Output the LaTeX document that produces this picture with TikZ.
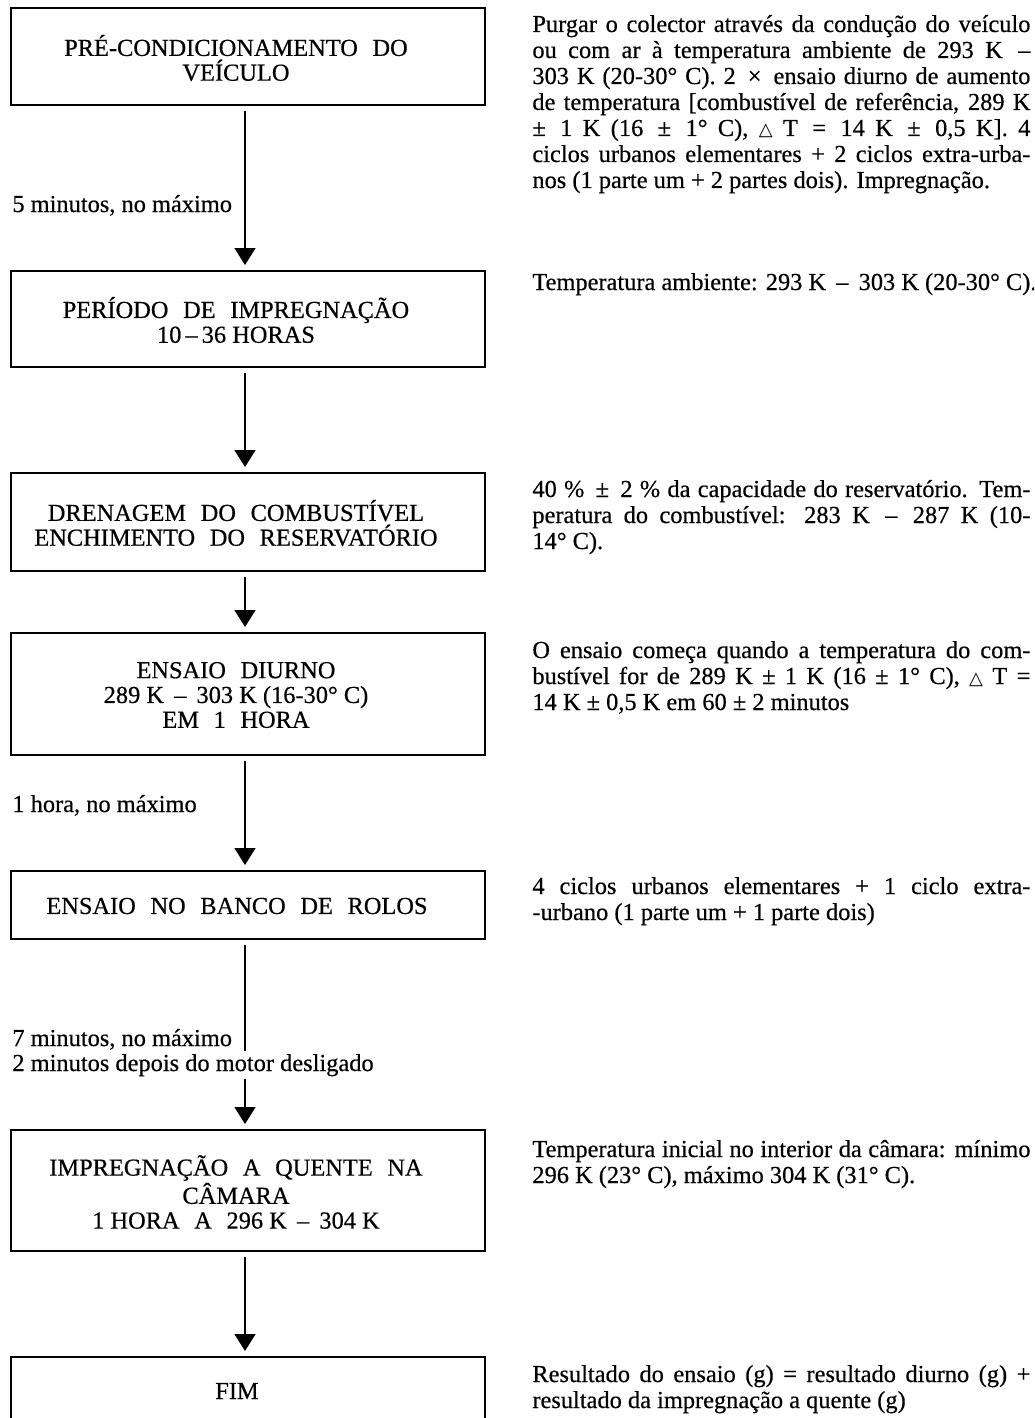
\documentclass[tikz,border=0pt]{standalone}
\usepackage{fontspec}
\setmainfont[FakeBold=0.5]{Liberation Serif}
\newfontfamily\dvsans{DejaVu Sans}
\usetikzlibrary{arrows.meta}
\newcommand\wsp{\hspace{0.6em}}
\newcommand\jline[1]{\makebox[249pt][s]{#1}\\}
\newcommand\dtri{{\dvsans\fontsize{9}{9}\selectfont △}}
\begin{document}
\begin{tikzpicture}[x=0.5pt,y=-0.5pt,
  box/.style={draw, line width=1pt, minimum width=237pt, inner sep=0pt},
  boxtext/.style={inner sep=0pt, align=center, font=\fontsize{12.2}{12.4}\selectfont},
  flow/.style={line width=0.8pt, -{Triangle[width=10.5pt,length=8.5pt]},
    shorten <=2.5pt, shorten >=2.5pt},
  note/.style={anchor=base west, inner sep=0pt, font=\fontsize{12.2}{13}\selectfont},
  lbl/.style={anchor=base west, inner sep=0pt, font=\fontsize{12.2}{13}\selectfont}]
\useasboundingbox (0,0) rectangle (1034,1418);
\clip (0,0) rectangle (1034,1418);

% boxes
\node[box, minimum height=48.5pt] (b1) at (248,56.5) {};
\node[box, minimum height=48pt] (b2) at (248,319) {};
\node[box, minimum height=49pt] (b3) at (248,522) {};
\node[box, minimum height=61pt] (b4) at (248,694) {};
\node[box, minimum height=34pt] (b5) at (248,905) {};
\node[box, minimum height=60.5pt] (b6) at (248,1190.5) {};
\node[box, minimum height=34pt] (b7) at (248,1391) {};

% box texts
\node[boxtext] (t1) at (236,58) {PRÉ-CONDICIONAMENTO\wsp DO\\VEÍCULO};
\node[boxtext] (t2) at (236,320) {PERÍODO\wsp DE\wsp IMPREGNAÇÃO\\10\,–\,36 HORAS};
\node[boxtext] (t3) at (236,523) {DRENAGEM\wsp DO\wsp COMBUSTÍVEL\\ENCHIMENTO\wsp DO\wsp RESERVATÓRIO};
\node[boxtext] (t4) at (236,695) {ENSAIO\wsp DIURNO\\289 K \,–\, 303 K (16-30° C)\\EM\wsp 1\wsp HORA};
\node[boxtext] (t5) at (237,906) {ENSAIO\wsp NO\wsp BANCO\wsp DE\wsp ROLOS};
\node[boxtext] (t6) at (236,1192) {IMPREGNAÇÃO\wsp A\wsp QUENTE\wsp NA\\CÂMARA\\1 HORA\wsp A\wsp 296 K \,–\, 304 K};
\node[boxtext] (t7) at (237,1391) {FIM};

% connectors
\draw[flow] ([xshift=-1.5pt]b1.south) -- ([xshift=-1.5pt]b2.north);
\draw[flow] ([xshift=-1.5pt]b2.south) -- ([xshift=-1.5pt]b3.north);
\draw[flow] ([xshift=-1.5pt]b3.south) -- ([xshift=-1.5pt]b4.north);
\draw[flow] ([xshift=-1.5pt]b4.south) -- ([xshift=-1.5pt]b5.north);
\draw[flow] ([xshift=-1.5pt]b5.south) -- ([xshift=-1.5pt]b6.north);
\draw[flow] ([xshift=-1.5pt]b6.south) -- ([xshift=-1.5pt]b7.north);

% connector labels
\node[lbl] (l1) at (12,212) {5 minutos, no máximo};
\node[lbl] (l2) at (12,812) {1 hora, no máximo};
\node[lbl] (l3) at (12,1046) {7 minutos, no máximo};
\node[lbl, fill=white, inner sep=1.5pt] (l4) at (9,1071) {2 minutos depois do motor desligado};

% notes
\node[note] (n1) at (532,32) {\parbox[t]{249pt}{%
\jline{Purgar o colector através da condução do veículo}%
\jline{ou com ar à temperatura ambiente de 293 K \,–}%
\jline{303 K (20-30° C). 2 \,×\, ensaio diurno de aumento}%
\jline{de temperatura [combustível de referência, 289 K}%
\jline{± \,1 K (16 \,±\, 1° C), \dtri\ T \,=\, 14 K \,±\, 0,5 K]. 4}%
\jline{ciclos urbanos elementares + 2 ciclos extra-urba-}%
nos (1 parte um + 2 partes dois). Impregnação.}};

\node[note] (n2) at (532,290) {Temperatura ambiente: 293 K \,–\, 303 K (20-30° C).};

\node[note] (n3) at (532,497) {\parbox[t]{249pt}{%
\jline{40 \% \,±\, 2 \% da capacidade do reservatório. Tem-}%
\jline{peratura do combustível: 283 K \,–\, 287 K (10-}%
14° C).}};

\node[note] (n4) at (532,658) {\parbox[t]{249pt}{%
\jline{O ensaio começa quando a temperatura do com-}%
\jline{bustível for de 289 K ± 1 K (16 ± 1° C), \dtri\ T =}%
14 K ± 0,5 K em 60 ± 2 minutos}};

\node[note] (n5) at (532,894) {\parbox[t]{249pt}{%
\jline{4 ciclos urbanos elementares + 1 ciclo extra-}%
-urbano (1 parte um + 1 parte dois)}};

\node[note] (n6) at (532,1157) {\parbox[t]{249pt}{%
\jline{Temperatura inicial no interior da câmara: mínimo}%
296 K (23° C), máximo 304 K (31° C).}};

\node[note] (n7) at (532,1382) {\parbox[t]{249pt}{%
\jline{Resultado do ensaio (g) = resultado diurno (g) +}%
resultado da impregnação a quente (g)}};
\end{tikzpicture}
\end{document}
